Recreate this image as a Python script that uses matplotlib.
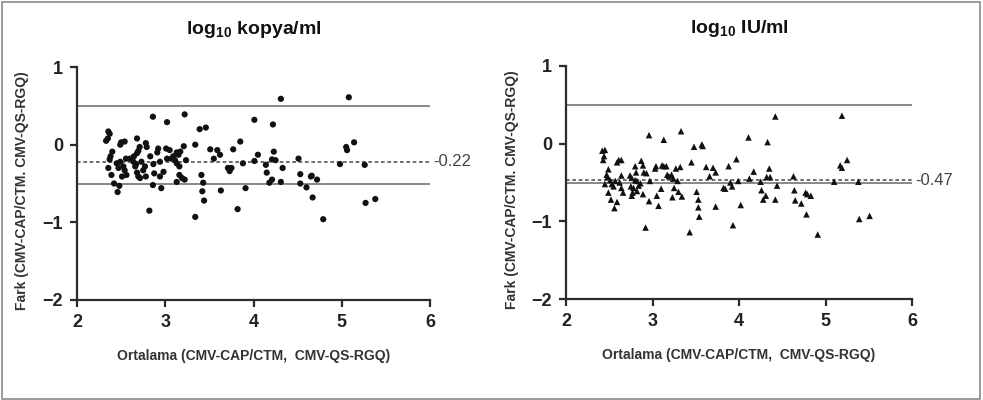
import matplotlib
matplotlib.use("Agg")
import matplotlib.pyplot as plt
from matplotlib.patches import Rectangle

plt.rcParams['font.family'] = ['Liberation Sans', 'DejaVu Sans']
plt.rcParams['mathtext.fontset'] = 'custom'
plt.rcParams['mathtext.rm'] = 'Liberation Sans:bold'
plt.rcParams['mathtext.bf'] = 'Liberation Sans:bold'

# sol panel: log10 kopya/ml (ortalama, fark)
kopya_mean = [
    2.355, 2.37, 2.33, 2.35, 2.38, 2.37, 2.40, 2.355, 2.39, 2.42, 2.48, 2.46,
    2.45, 2.49, 2.47, 2.525, 2.54, 2.56, 2.51, 2.50, 2.49, 2.54, 2.555, 2.60,
    2.645, 2.64, 2.66, 2.68, 2.695, 2.715, 2.68, 2.71, 2.695, 2.68, 2.67, 2.73,
    2.75, 2.77, 2.78, 2.78, 2.79, 2.83, 2.865, 2.875, 2.82, 2.86, 2.86, 2.94,
    2.94, 2.92, 2.91, 2.98, 2.955, 3.02, 3.01, 3.05, 3.02, 3.07, 3.09, 3.11,
    3.13, 3.15, 3.13, 3.16, 3.13, 3.16, 3.19, 3.22, 3.22, 3.21, 3.235, 3.17,
    3.34, 3.39, 3.46, 3.34, 3.41, 3.43, 3.42, 3.44, 3.51, 3.55, 3.59, 3.62,
    3.63, 3.77, 3.75, 3.71, 3.73, 3.85, 3.88, 3.82, 3.91, 4.01, 4.01, 4.05,
    4.31, 5.08, 4.22, 4.23, 4.21, 4.25, 4.14, 4.15, 4.18, 4.21, 4.31, 4.33,
    4.51, 4.53, 4.53, 4.60, 4.65, 4.66, 4.72, 4.67, 4.79, 4.98, 5.05, 5.06,
    5.14, 5.26, 5.27, 5.38,
]
kopya_diff = [
    0.17, 0.14, 0.05, 0.08, -0.15, -0.19, -0.09, -0.30, -0.39, -0.50, -0.53, -0.61,
    -0.24, -0.22, -0.30, -0.28, -0.33, -0.39, -0.41, 0.03, 0.00, 0.04, -0.18, -0.18,
    -0.15, -0.22, -0.28, -0.36, -0.41, -0.43, 0.08, -0.03, -0.08, -0.11, -0.25, -0.22,
    -0.33, -0.28, -0.41, 0.02, -0.03, -0.15, -0.25, -0.37, -0.85, 0.36, -0.52, -0.22,
    -0.41, -0.05, -0.10, -0.35, -0.56, 0.29, -0.05, -0.07, -0.18, -0.18, -0.15, -0.20,
    -0.10, -0.13, -0.24, -0.28, -0.48, -0.39, -0.43, -0.45, 0.39, -0.02, -0.20, -0.09,
    0.00, 0.20, 0.22, -0.93, -0.39, -0.49, -0.60, -0.72, -0.06, -0.18, -0.07, -0.13,
    -0.59, -0.06, -0.30, -0.30, -0.34, 0.04, -0.24, -0.83, -0.56, 0.32, -0.21, -0.13,
    0.59, 0.61, 0.26, -0.09, -0.19, -0.20, -0.26, -0.36, -0.49, -0.45, -0.48, -0.30,
    -0.18, -0.38, -0.50, -0.55, -0.41, -0.40, -0.45, -0.68, -0.96, -0.25, -0.03, -0.07,
    0.03, -0.26, -0.75, -0.70,
]

# sag panel: log10 IU/ml
iu_mean = [
    2.42, 2.45, 2.44, 2.43, 2.49, 2.47, 2.48, 2.45, 2.51, 2.53, 2.49, 2.52,
    2.56, 2.59, 2.55, 2.59, 2.64, 2.61, 2.64, 2.62, 2.64, 2.66, 2.57, 2.74,
    2.76, 2.75, 2.77, 2.76, 2.78, 2.80, 2.81, 2.80, 2.82, 2.84, 2.82, 2.86,
    2.87, 2.89, 2.90, 2.89, 2.93, 2.92, 2.96, 2.96, 2.97, 3.03, 3.04, 3.05,
    3.07, 3.10, 3.11, 3.13, 3.13, 3.16, 3.17, 3.19, 3.22, 3.24, 3.23, 3.25,
    3.27, 3.30, 3.32, 3.34, 3.33, 3.29, 3.45, 3.48, 3.51, 3.53, 3.53, 3.54,
    3.57, 3.58, 3.43, 3.62, 3.66, 3.70, 3.73, 3.73, 3.82, 3.84, 3.88, 3.90,
    3.92, 3.93, 3.97, 3.99, 4.02, 4.11, 4.12, 4.33, 4.17, 4.35, 4.32, 4.36,
    4.25, 4.44, 4.63, 4.26, 4.31, 4.28, 4.42, 4.42, 4.64, 4.65, 4.72, 4.77,
    4.79, 4.83, 4.78, 4.91, 5.10, 5.17, 5.19, 5.19, 5.25, 5.38, 5.39, 5.51,
]
iu_diff = [
    -0.09, -0.08, -0.16, -0.21, -0.33, -0.40, -0.43, -0.52, -0.47, -0.52, -0.63, -0.72,
    -0.83, -0.75, -0.55, -0.24, -0.21, -0.21, -0.41, -0.50, -0.57, -0.63, -0.48, -0.41,
    -0.44, -0.55, -0.63, -0.67, -0.57, -0.29, -0.37, -0.47, -0.48, -0.54, -0.61, -0.51,
    -0.22, -0.28, -0.37, -0.65, -0.38, -1.08, -0.74, 0.11, -0.48, -0.32, -0.29, -0.67,
    -0.80, -0.58, -0.28, -0.29, 0.05, -0.29, -0.40, -0.42, -0.40, -0.45, -0.69, -0.57,
    -0.32, -0.62, -0.30, -0.68, 0.16, -0.48, -0.24, -0.04, -0.62, -0.72, -0.82, -0.94,
    -0.01, -0.03, -1.14, -0.30, -0.42, -0.31, -0.37, -0.81, -0.57, -0.58, -0.29, -0.50,
    -0.55, -1.05, -0.20, -0.48, -0.79, 0.08, -0.45, 0.02, -0.36, -0.32, -0.43, -0.43,
    -0.49, -0.54, -0.42, -0.60, -0.67, -0.72, -0.72, 0.35, -0.60, -0.73, -0.77, -0.63,
    -0.65, -0.67, -0.91, -1.17, -0.49, -0.28, -0.31, 0.36, -0.21, -0.49, -0.97, -0.93,
]

titles = ['log$_{\\mathbf{10}}$ kopya/ml', 'log$_{\\mathbf{10}}$ IU/ml']
bias = [-0.22, -0.47]
limits = [0.5, -0.5]
xlabel = 'Ortalama (CMV-CAP/CTM,  CMV-QS-RGQ)'
ylabel = 'Fark (CMV-CAP/CTM. CMV-QS-RGQ)'

fig = plt.figure(figsize=(9.83, 4.0), dpi=100)
fig.patches.append(Rectangle((0.002, 0.003), 0.995, 0.993, transform=fig.transFigure,
                             fill=False, edgecolor='#8a8a8a', linewidth=1.2))

ax1 = fig.add_axes([77 / 983, 100 / 400, 353 / 983, 233 / 400])
ax2 = fig.add_axes([566 / 983, 101 / 400, 346 / 983, 233 / 400])

panels = [(ax1, kopya_mean, kopya_diff, 'o'), (ax2, iu_mean, iu_diff, '^')]
for i, (ax, xs, ys, mk) in enumerate(panels):
    for lim in limits:
        ax.axhline(lim, color='#7f7f7f', lw=1.3, zorder=1)
    ax.axhline(bias[i], color='#555555', lw=1.2, ls=(0, (2.2, 1.6)), zorder=2)
    ax.scatter(xs, ys, marker=mk, s=20 if mk == 'o' else 22, color='#111111',
               edgecolors='none', zorder=3)
    ax.text(6.04, bias[i], f'{bias[i]:.2f}', fontsize=12, color='#444444',
            va='center', ha='left', clip_on=False)

    ax.set_xlim(2, 6)
    ax.set_ylim(-2, 1)
    ax.set_xticks([2, 3, 4, 5, 6])
    ax.set_yticks([-2, -1, 0, 1])
    for s in ['top', 'right']:
        ax.spines[s].set_visible(False)
    for s in ['left', 'bottom']:
        ax.spines[s].set_linewidth(1.6)
        ax.spines[s].set_color('#2b2b2b')
    ax.tick_params(length=5, width=1.6, color='#2b2b2b', labelsize=13, pad=5,
                   labelcolor='#222222')
    for lab in ax.get_xticklabels() + ax.get_yticklabels():
        lab.set_fontweight('bold')

    ax.set_title(titles[i], fontsize=14, fontweight='bold', pad=24, color='#111111')
    ax.set_xlabel(xlabel, fontsize=10, fontweight='bold', color='#333333')
    ax.xaxis.set_label_coords(0.5, -0.21)
    ax.set_ylabel(ylabel, fontsize=10, fontweight='bold', color='#333333')
    ax.yaxis.set_label_coords(-0.135, 0.47)

fig.savefig('out.png', dpi=100)
